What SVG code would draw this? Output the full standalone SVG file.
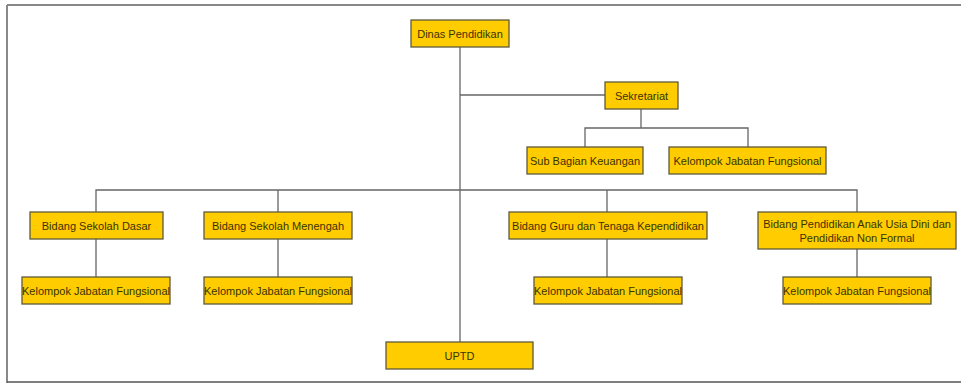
<svg xmlns="http://www.w3.org/2000/svg" width="961" height="383" viewBox="0 0 961 383">
<style>
.box{fill:#FFCC00;stroke:#5f5a3a;stroke-width:1.3}
.t{font-family:"Liberation Sans",Arial,sans-serif;font-size:11px;fill:#3a3300;text-anchor:middle;dominant-baseline:central}
.ln{stroke:#666;stroke-width:1.3;fill:none}
</style>
<rect x="0" y="0" width="961" height="383" fill="#fff"/>
<g id="frame">
<line x1="7" y1="5" x2="961" y2="5" stroke="#888" stroke-width="2"/>
<line x1="7" y1="5" x2="7" y2="383" stroke="#888" stroke-width="2"/>
<line x1="7" y1="382" x2="961" y2="382" stroke="#555" stroke-width="1.5"/>
</g>
<g id="connectors" class="ln">
<path class="ln" d="M460 47V342"/>
<path class="ln" d="M460 95H605"/>
<path class="ln" d="M641 109V128M585 147V128H748V147"/>
<path class="ln" d="M96 212V190H857V212M278 190V212M607 190V212"/>
<path class="ln" d="M96 239V277M278 239V277M607 239V277M857 249V277"/>
</g>
<g id="dinas"><rect class="box" x="411" y="20" width="98" height="27"/><text class="t" x="460" y="33.5">Dinas Pendidikan</text></g>
<g id="sekretariat"><rect class="box" x="605" y="82" width="73" height="27"/><text class="t" x="641.5" y="95.5">Sekretariat</text></g>
<g id="subbagian"><rect class="box" x="527" y="147" width="116" height="27"/><text class="t" x="585" y="160.5">Sub Bagian Keuangan</text></g>
<g id="kjf-sek"><rect class="box" x="669" y="147" width="157" height="27"/><text class="t" x="747.5" y="160.5">Kelompok Jabatan Fungsional</text></g>
<g id="bsd"><rect class="box" x="30" y="212" width="133" height="27"/><text class="t" x="96.5" y="225.5">Bidang Sekolah Dasar</text></g>
<g id="bsm"><rect class="box" x="204" y="212" width="148" height="27"/><text class="t" x="278" y="225.5">Bidang Sekolah Menengah</text></g>
<g id="bgtk"><rect class="box" x="509" y="212" width="198" height="27"/><text class="t" x="608" y="225.5">Bidang Guru dan Tenaga Kependidikan</text></g>
<g id="bpaud"><rect class="box" x="758" y="212" width="198" height="37"/><text class="t" x="857" y="224">Bidang Pendidikan Anak Usia Dini dan</text><text class="t" x="857" y="238">Pendidikan Non Formal</text></g>
<g id="kjf-bsd"><rect class="box" x="22" y="277" width="148" height="27"/><text class="t" x="96" y="290.5">Kelompok Jabatan Fungsional</text></g>
<g id="kjf-bsm"><rect class="box" x="204" y="277" width="148" height="27"/><text class="t" x="278" y="290.5">Kelompok Jabatan Fungsional</text></g>
<g id="kjf-bgtk"><rect class="box" x="534" y="277" width="148" height="27"/><text class="t" x="608" y="290.5">Kelompok Jabatan Fungsional</text></g>
<g id="kjf-bpaud"><rect class="box" x="783" y="277" width="148" height="27"/><text class="t" x="857" y="290.5">Kelompok Jabatan Fungsional</text></g>
<g id="uptd"><rect class="box" x="386" y="342" width="147" height="27"/><text class="t" x="459.5" y="355.5">UPTD</text></g>
</svg>
